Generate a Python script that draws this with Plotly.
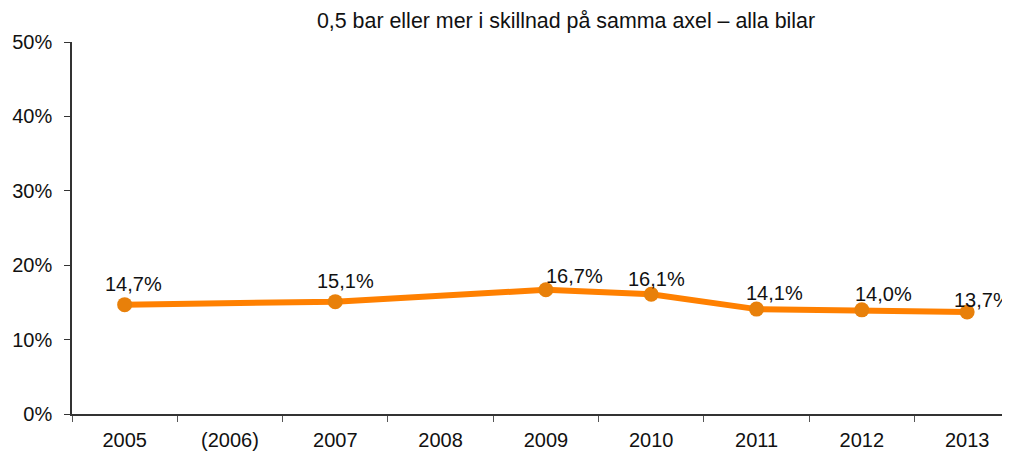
import plotly.graph_objects as go

categories = ["2005", "(2006)", "2007", "2008", "2009", "2010", "2011", "2012", "2013"]
values = [14.7, None, 15.1, None, 16.7, 16.1, 14.1, 14.0, 13.7]
y_ticks = [0, 10, 20, 30, 40, 50]
title = "0,5 bar eller mer i skillnad på samma axel – alla bilar"

# label offsets (pixels) relative to each point
label_dx = [9, 0, 10, 0, 29, 5, 18, 22, 15]
label_dy = [21, 0, 21, 0, 14, 15, 16, 16, 12]

font = "Liberation Sans, Arial, Helvetica, sans-serif"

fig = go.Figure()
fig.add_trace(go.Scatter(
    x=list(range(len(categories))), y=values, mode="lines+markers", connectgaps=True,
    line=dict(color="#FF8000", width=6),
    marker=dict(color="#E8800A", size=15),
    cliponaxis=False, hoverinfo="skip",
))

for i, v in enumerate(values):
    if v is None:
        continue
    fig.add_annotation(
        x=i, y=v, text=f"{v:.1f}%".replace(".", ","), showarrow=False,
        xshift=label_dx[i], yshift=label_dy[i],
        font=dict(family=font, size=20, color="#111111"),
    )

fig.update_layout(
    width=1010, height=452,
    margin=dict(l=64, r=8, t=34, b=46),
    paper_bgcolor="white", plot_bgcolor="white",
    showlegend=False,
    font=dict(family=font, size=20, color="#111111"),
    title=dict(text=title, x=0.5525, xanchor="center", y=0.973, yanchor="middle",
               font=dict(family=font, size=21.4, color="#111111")),
)
fig.update_xaxes(
    range=[-0.5, 8.407], automargin=False,
    tickvals=list(range(len(categories))), ticktext=categories,
    showline=True, linecolor="#333333", linewidth=1.5,
    ticks="", showgrid=False, zeroline=False,
    tickfont=dict(size=20), ticklabelstandoff=7,
    minor=dict(tickvals=[i - 0.5 for i in range(len(categories) + 1)],
               ticks="outside", ticklen=6, tickcolor="#555555", showgrid=False),
)
fig.update_yaxes(
    range=[0, 50], tickvals=y_ticks, ticktext=[f"{t}%" for t in y_ticks],
    automargin=False,
    showline=True, linecolor="#333333", linewidth=1.5,
    ticks="outside", ticklen=6, tickcolor="#333333",
    showgrid=False, zeroline=False, tickfont=dict(size=20),
    ticklabelstandoff=8,
)

fig.write_html("out.html")
